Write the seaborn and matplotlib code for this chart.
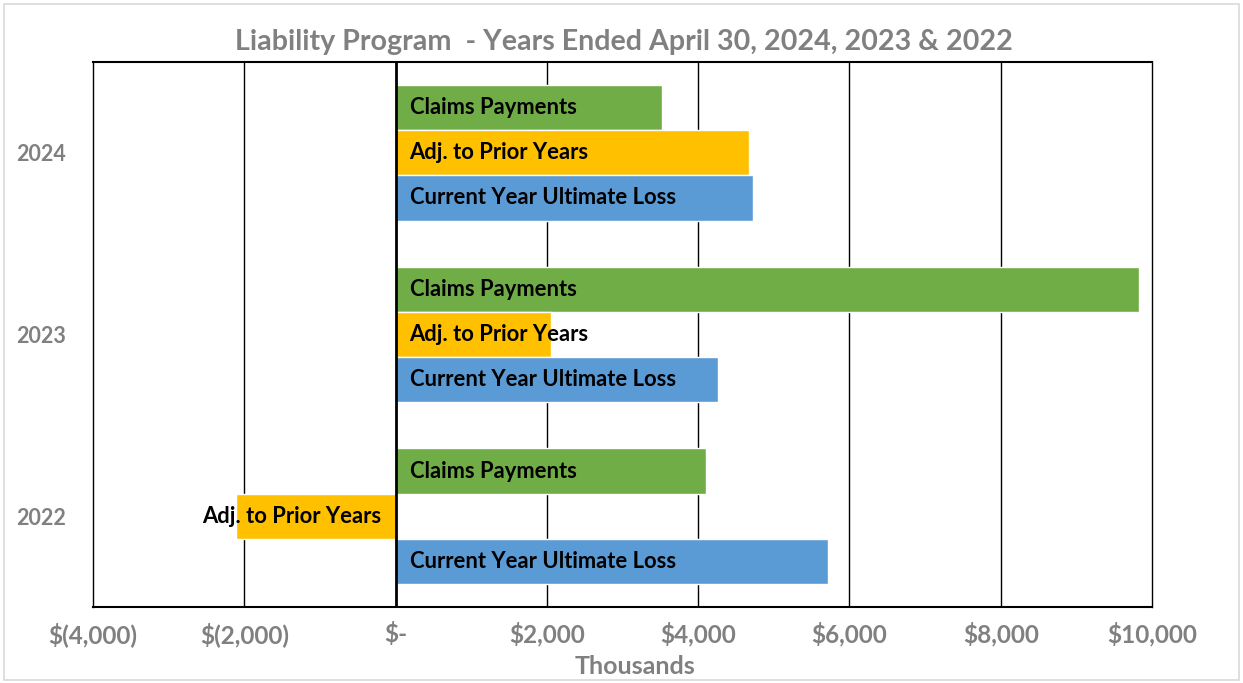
import matplotlib
matplotlib.use("Agg")
import matplotlib.pyplot as plt
import seaborn as sns
import pandas as pd
from matplotlib.patches import Rectangle

years = ["2024", "2023", "2022"]
series = ["Claims Payments", "Adj. to Prior Years", "Current Year Ultimate Loss"]
claims_payments = [3520, 9830, 4100]
adj_prior_years = [4670, 2050, -2110]
current_year_loss = [4730, 4260, 5720]
colors = ["#70AD47", "#FFC000", "#5B9BD5"]
xticks = [-4000, -2000, 0, 2000, 4000, 6000, 8000, 10000]
xtick_labels = ["$(4,000)", "$(2,000)", "$-", "$2,000", "$4,000", "$6,000", "$8,000", "$10,000"]
title = "Liability Program  - Years Ended April 30, 2024, 2023 & 2022"

rows = []
for name, vals in zip(series, [claims_payments, adj_prior_years, current_year_loss]):
    for y, v in zip(years, vals):
        rows.append({"Year": y, "Series": name, "Value": v})
df = pd.DataFrame(rows)

sns.set_theme(style="white")
plt.rcParams["font.family"] = ["Lato", "DejaVu Sans"]

fig = plt.figure(figsize=(12.43, 6.83), dpi=100)
fig.patch.set_facecolor("white")
fig.patches.append(Rectangle((0.003, 0.004), 0.994, 0.99, transform=fig.transFigure,
                             fill=False, edgecolor="#d9d9d9", linewidth=1.2))
ax = fig.add_axes([93 / 1243, 1 - 607 / 683, (1152 - 93) / 1243, (607 - 62) / 683])

sns.barplot(data=df, y="Year", x="Value", hue="Series", order=years, hue_order=series,
            palette=colors, orient="h", width=0.745, saturation=1, ax=ax, legend=False,
            errorbar=None)

ax.set_xlim(-4000, 10000)
ax.set_ylim(2.5, -0.5)
ax.set_xticks(xticks)
ax.set_xticklabels(xtick_labels, fontsize=17.5, color="#808080", fontweight="bold")
ax.tick_params(axis="x", length=0, pad=11)
ax.tick_params(axis="y", length=0, pad=19.5)
for lab in ax.get_yticklabels():
    lab.set_fontsize(15.5)
    lab.set_color("#808080")
    lab.set_fontweight("bold")
ax.set_ylabel("")
ax.set_xlabel("Thousands", fontsize=18, color="#808080", fontweight="bold")
ax.xaxis.set_label_coords(0.512, -0.088)

ax.set_axisbelow(True)
for x in xticks[1:-1]:
    if x != 0:
        ax.axvline(x, color="black", linewidth=1, zorder=0)
ax.axvline(0, color="black", linewidth=2, zorder=3)
for side, sp in ax.spines.items():
    sp.set_visible(True)
    sp.set_color("black")
    sp.set_linewidth(1.5 if side in ("top", "bottom") else 1.0)

for cont, name in zip(ax.containers, series):
    for bar in cont:
        w = bar.get_width()
        yc = bar.get_y() + bar.get_height() / 2
        if w >= 0:
            ax.annotate(name, xy=(0, yc), xytext=(14, 0), textcoords="offset pixels",
                        ha="left", va="center", fontsize=15.8, fontweight="bold",
                        color="black", zorder=5)
        else:
            ax.annotate(name, xy=(0, yc), xytext=(-14, 0), textcoords="offset pixels",
                        ha="right", va="center", fontsize=15.8, fontweight="bold",
                        color="black", zorder=5)

fig.text(624 / 1243, 1 - 42 / 683, title, ha="center", va="center", fontsize=20.6,
         color="#808080", fontweight="bold")

fig.savefig("out.png", dpi=100)
